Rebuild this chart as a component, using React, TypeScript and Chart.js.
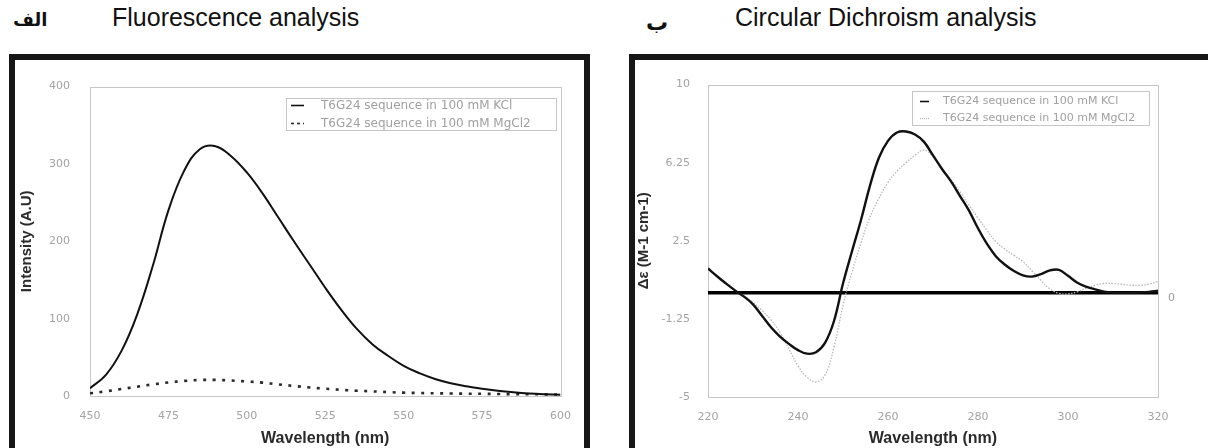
import React, { useEffect, useRef } from 'react';
import { Chart, registerables } from 'chart.js';

Chart.register(...registerables);

// ---------- Fluorescence data ----------
const flWavelengths = [450, 455, 460, 465, 470, 475, 480, 485, 490, 495, 500, 505, 510, 515, 520, 525, 530, 535, 540, 545, 550, 555, 560, 565, 570, 575, 580, 585, 590, 595, 600];
const flKCl = [10, 27, 58, 105, 168, 240, 291, 319, 323, 310, 289, 262, 231, 200, 170, 140, 112, 87, 67, 52, 39, 29.5, 22, 16.5, 12.5, 9.3, 6.7, 4.7, 3.2, 2.2, 1.5];
const flMgCl2 = [3.5, 6, 9, 12, 15, 17.5, 19.5, 20.7, 20.8, 20, 18.8, 17.3, 15, 13, 11, 9.5, 8, 6.8, 6, 5, 4.3, 3.9, 3.5, 3.2, 3, 2.8, 2.6, 2.4, 2.3, 2.1, 2];
const flXTicks = [450, 475, 500, 525, 550, 575, 600];
const flYTicks = [0, 100, 200, 300, 400];

// ---------- Circular dichroism data ----------
const cdWavelengths = [220, 222, 224, 226, 228, 230, 232, 234, 236, 238, 240, 242, 244, 246, 248, 250, 252, 254, 256, 258, 260, 262, 264, 266, 268, 270, 272, 274, 276, 278, 280, 282, 284, 286, 288, 290, 292, 294, 296, 298, 300, 302, 304, 306, 308, 310, 312, 314, 316, 318, 320];
const cdKCl = [1.17, 0.8, 0.45, 0.12, -0.18, -0.55, -1.1, -1.65, -2.1, -2.45, -2.75, -2.92, -2.85, -2.4, -1.35, 0.45, 2.0, 3.5, 5.15, 6.5, 7.3, 7.7, 7.75, 7.6, 7.25, 6.6, 5.95, 5.35, 4.65, 3.95, 3.1, 2.35, 1.75, 1.35, 1.05, 0.84, 0.78, 0.9, 1.08, 1.1, 0.82, 0.5, 0.3, 0.17, 0.06, 0.01, 0.0, 0.0, 0.02, 0.05, 0.1];
const cdMgCl2 = [1.17, 0.8, 0.45, 0.12, -0.15, -0.45, -0.85, -1.3, -1.9, -2.7, -3.5, -4.05, -4.28, -3.95, -2.6, -0.6, 1.0, 2.4, 3.65, 4.55, 5.3, 5.85, 6.25, 6.6, 6.85, 6.55, 5.95, 5.45, 4.85, 4.2, 3.6, 3.0, 2.45, 2.1, 1.8, 1.5, 1.05, 0.6, 0.18, -0.02, -0.05, 0.05, 0.22, 0.36, 0.45, 0.45, 0.41, 0.37, 0.36, 0.42, 0.55];
const cdBaselineX = [220, 320];
const cdBaselineY = [0, 0];
const cdXTicks = [220, 240, 260, 280, 300, 320];
const cdYTicks = [-5, -1.25, 2.5, 6.25, 10];

const seriesLabels = ['T6G24 sequence in 100 mM KCl', 'T6G24 sequence in 100 mM MgCl2'];

const TICK_FONT = { family: "'DejaVu Sans', sans-serif", size: 11 };
const TITLE_FONT = { family: "'Liberation Sans', Arial, sans-serif", size: 15, weight: 'bold' as const };

const toPoints = (xs: number[], ys: number[]) => xs.map((x, i) => ({ x, y: ys[i] }));

const panelPlugin = {
  id: 'panel',
  beforeDatasetsDraw(chart: any) {
    const { ctx, chartArea: a } = chart;
    ctx.save();
    ctx.strokeStyle = '#8c8c8c';
    ctx.lineWidth = 1;
    ctx.setLineDash([1, 1]);
    ctx.strokeRect(Math.round(a.left) + 0.5, Math.round(a.top) + 0.5, Math.round(a.width), Math.round(a.height));
    ctx.restore();
  },
  afterDatasetsDraw(chart: any, _args: any, o: any) {
    const { ctx, chartArea: a } = chart;
    const bx = Math.round(a.right - o.right - o.width);
    const by = Math.round(a.top + o.top);
    ctx.save();
    ctx.fillStyle = '#fff';
    ctx.fillRect(bx, by, o.width, o.height);
    ctx.strokeStyle = '#8c8c8c';
    ctx.lineWidth = 1;
    ctx.setLineDash([1, 1]);
    ctx.strokeRect(bx + 0.5, by + 0.5, o.width, o.height);
    ctx.font = `${o.fontSize}px 'DejaVu Sans', sans-serif`;
    ctx.textBaseline = 'middle';
    ctx.textAlign = 'left';
    let row = 0;
    chart.data.datasets.forEach((ds: any) => {
      if (!ds.label) return;
      const y = by + o.rowTop + row * o.rowGap + 0.5;
      ctx.setLineDash(ds.legendDash || []);
      ctx.strokeStyle = ds.borderColor;
      ctx.lineWidth = Math.min(ds.borderWidth, 1.6);
      ctx.beginPath();
      ctx.moveTo(bx + o.sampleX, y);
      ctx.lineTo(bx + o.sampleX + o.sampleW, y);
      ctx.stroke();
      ctx.setLineDash([]);
      ctx.fillStyle = o.textColor;
      ctx.fillText(ds.label, bx + o.textX, y);
      row++;
    });
    ctx.restore();
  },
};

function axisX(min: number, max: number, ticks: number[], height: number) {
  return {
    type: 'linear' as const,
    min,
    max,
    afterBuildTicks: (s: any) => { s.ticks = ticks.map((v) => ({ value: v })); },
    afterFit: (s: any) => { s.height = height; },
    grid: { display: false, drawTicks: false },
    border: { display: false },
    ticks: { color: '#a3a3a3', font: TICK_FONT, padding: 14, maxRotation: 0, autoSkip: false, callback: (v: any) => String(v) },
    title: { display: true, text: 'Wavelength (nm)', color: '#2a2a2a', font: { ...TITLE_FONT, size: 16 }, padding: { top: 0, bottom: 0 } },
  };
}

function axisY(min: number, max: number, ticks: number[], width: number, title: string, titlePad: number, tickPad: number) {
  return {
    type: 'linear' as const,
    min,
    max,
    afterBuildTicks: (s: any) => { s.ticks = ticks.map((v) => ({ value: v })); },
    afterFit: (s: any) => { s.width = width; },
    grid: { display: false, drawTicks: false },
    border: { display: false },
    ticks: { color: '#a3a3a3', font: TICK_FONT, padding: tickPad, autoSkip: false, callback: (v: any) => String(v) },
    title: { display: true, text: title, color: '#2a2a2a', font: TITLE_FONT, padding: { top: titlePad, bottom: 0 } },
  };
}

function FluorescenceChart() {
  const ref = useRef<HTMLCanvasElement>(null);
  useEffect(() => {
    if (!ref.current) return;
    const chart = new Chart(ref.current, {
      type: 'line',
      data: {
        datasets: [
          {
            label: seriesLabels[0],
            data: toPoints(flWavelengths, flKCl),
            borderColor: '#111',
            borderWidth: 2,
            pointRadius: 0,
            tension: 0.4,
          },
          {
            label: seriesLabels[1],
            data: toPoints(flWavelengths, flMgCl2),
            borderColor: '#2a2a2a',
            borderWidth: 2.6,
            borderDash: [3, 6.5],
            legendDash: [3, 3],
            pointRadius: 0,
            tension: 0.4,
          },
        ],
      } as any,
      options: {
        responsive: false,
        animation: false,
        devicePixelRatio: 1,
        layout: { padding: { left: 0, top: 14, right: 15, bottom: 0 } },
        plugins: {
          legend: { display: false },
          tooltip: { enabled: false },
          panel: { right: 5, width: 270, top: 11, height: 32, rowTop: 7, rowGap: 18, sampleX: 5, sampleW: 13, textX: 35, fontSize: 12, textColor: '#a0a0a0' },
        } as any,
        scales: {
          x: axisX(450, 600, flXTicks, 52),
          y: axisY(0, 400, flYTicks, 75, 'Intensity (A.U)', 3, 20),
        } as any,
      },
      plugins: [panelPlugin],
    });
    return () => chart.destroy();
  }, []);
  return <canvas ref={ref} width={570} height={388} style={{ position: 'absolute', left: 15, top: 60 }} />;
}

function CDChart() {
  const ref = useRef<HTMLCanvasElement>(null);
  useEffect(() => {
    if (!ref.current) return;
    const chart = new Chart(ref.current, {
      type: 'line',
      data: {
        datasets: [
          {
            label: seriesLabels[0],
            data: toPoints(cdWavelengths, cdKCl),
            borderColor: '#111',
            borderWidth: 2.4,
            pointRadius: 0,
            tension: 0.4,
          },
          {
            label: seriesLabels[1],
            data: toPoints(cdWavelengths, cdMgCl2),
            borderColor: '#b8b8b8',
            borderWidth: 1.3,
            borderDash: [1.5, 1.5],
            legendDash: [1, 1],
            pointRadius: 0,
            tension: 0.4,
          },
          {
            label: '',
            data: toPoints(cdBaselineX, cdBaselineY),
            borderColor: '#000',
            borderWidth: 3.5,
            pointRadius: 0,
          },
        ],
      } as any,
      options: {
        responsive: false,
        animation: false,
        devicePixelRatio: 1,
        layout: { padding: { left: 0, top: 14, right: 50, bottom: 0 } },
        plugins: {
          legend: { display: false },
          tooltip: { enabled: false },
          panel: { right: 9, width: 237, top: 6, height: 34, rowTop: 10, rowGap: 17, sampleX: 8, sampleW: 9, textX: 31, fontSize: 11, textColor: '#a0a0a0' },
        } as any,
        scales: {
          x: axisX(220, 320, cdXTicks, 51),
          y: axisY(-5, 10, cdYTicks, 73, 'Δε (M-1 cm-1)', 0, 18),
        } as any,
      },
      plugins: [panelPlugin],
    });
    return () => chart.destroy();
  }, []);
  return <canvas ref={ref} width={573} height={388} style={{ position: 'absolute', left: 635, top: 60 }} />;
}

export default function App() {
  const titleStyle: React.CSSProperties = {
    position: 'absolute',
    top: 5,
    fontFamily: "'Liberation Sans', Arial, sans-serif",
    fontSize: 25,
    lineHeight: 1,
    color: '#111',
    whiteSpace: 'nowrap',
  };
  const arabicStyle: React.CSSProperties = {
    position: 'absolute',
    fontFamily: "'DejaVu Sans', sans-serif",
    fontWeight: 'bold',
    lineHeight: 1,
    color: '#111',
    direction: 'rtl',
    whiteSpace: 'nowrap',
  };
  return (
    <div style={{ position: 'fixed', left: 0, top: 0, width: 1208, height: 448, overflow: 'hidden', background: '#fff' }}>
      <div style={{ ...arabicStyle, left: 13, top: 11, fontSize: 18 }}>الف</div>
      <div style={{ ...titleStyle, left: 112 }}>Fluorescence analysis</div>
      <div style={{ ...arabicStyle, left: 646, top: 12, fontSize: 22 }}>ب</div>
      <div style={{ ...titleStyle, left: 735 }}>Circular Dichroism analysis</div>

      <div style={{ position: 'absolute', left: 9, top: 54, width: 581, height: 420, border: '6px solid #161616', boxSizing: 'border-box' }} />
      <div style={{ position: 'absolute', left: 629, top: 54, width: 620, height: 420, border: '6px solid #161616', boxSizing: 'border-box' }} />

      <FluorescenceChart />
      <CDChart />

      <div style={{ position: 'absolute', left: 1168, top: 292, fontFamily: "'DejaVu Sans', sans-serif", fontSize: 11, color: '#9c9c9c', lineHeight: 1 }}>0</div>
    </div>
  );
}
